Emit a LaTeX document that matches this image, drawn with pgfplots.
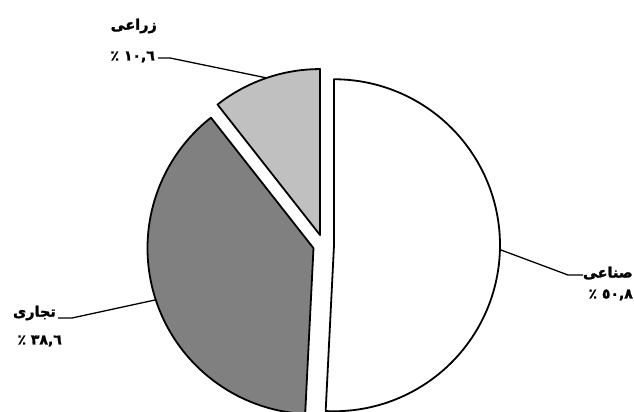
\documentclass[border=0pt]{standalone}
\usepackage{pgfplots}
\pgfplotsset{compat=1.18}
\usepackage{fontspec}
\TeXXeTstate=1
\newfontfamily\arabicfont[Script=Arabic, BoldFeatures={FakeBold=1.8}]{DejaVu Sans}

% data (percent)
\def\pSanaei{50.8}
\def\pTejari{38.6}
\def\pZeraei{10.6}
% geometry (pixels, y up)
\def\cx{323.5}
\def\cy{167}
\def\rad{166}
\def\expl{10.5}

% slice angles
\pgfmathsetmacro{\sA}{90}
\pgfmathsetmacro{\eA}{90-3.6*\pSanaei}
\pgfmathsetmacro{\sB}{\eA}
\pgfmathsetmacro{\eB}{\sB-3.6*\pTejari}
\pgfmathsetmacro{\sC}{\eB}
\pgfmathsetmacro{\eC}{\sC-3.6*\pZeraei}
% tips
\pgfmathsetmacro{\txA}{\cx+\expl*cos((\sA+\eA)/2)}
\pgfmathsetmacro{\tyA}{\cy+\expl*sin((\sA+\eA)/2)}
\pgfmathsetmacro{\txB}{\cx+\expl*cos((\sB+\eB)/2)}
\pgfmathsetmacro{\tyB}{\cy+\expl*sin((\sB+\eB)/2)}
\pgfmathsetmacro{\txC}{\cx+\expl*cos((\sC+\eC)/2)}
\pgfmathsetmacro{\tyC}{\cy+\expl*sin((\sC+\eC)/2)}

\newcommand{\nameFont}{\arabicfont\bfseries\fontsize{14.5}{16}\selectfont}
\newcommand{\numFont}{\arabicfont\bfseries\fontsize{14}{16}\selectfont}

\begin{document}
\begin{tikzpicture}
\begin{axis}[
  scale only axis, width=634bp, height=412bp,
  xmin=0, xmax=634, ymin=0, ymax=412,
  hide axis, clip=true,
]
% white slice
\addplot[draw=black, line width=1.8bp, line join=round, fill=white, domain=\eA:\sA, samples=150]
  ({\txA+\rad*cos(x)}, {\tyA+\rad*sin(x)}) -- (axis cs:\txA,\tyA) -- cycle;
% dark gray slice
\addplot[draw=black, line width=1.8bp, line join=round, fill={rgb,255:red,128;green,128;blue,128}, domain=\eB:\sB, samples=150]
  ({\txB+\rad*cos(x)}, {\tyB+\rad*sin(x)}) -- (axis cs:\txB,\tyB) -- cycle;
% light gray slice
\addplot[draw=black, line width=1.8bp, line join=round, fill={rgb,255:red,192;green,192;blue,192}, domain=\eC:\sC, samples=60]
  ({\txC+\rad*cos(x)}, {\tyC+\rad*sin(x)}) -- (axis cs:\txC,\tyC) -- cycle;

% leader lines
\addplot[black, line width=1.3bp] coordinates {(158,354) (170,354) (267,334)};
\addplot[black, line width=1.3bp] coordinates {(501,162) (568,137) (583,137)};
\addplot[black, line width=1.3bp] coordinates {(155,112) (72,94) (58,94)};

% labels
\node[anchor=east, inner sep=0pt] at (axis cs:157,386) {\nameFont\beginR زراعی\endR};
\node[anchor=east, inner sep=0pt] at (axis cs:155,355) {\numFont\beginR ١٠,٦ ٪\endR};
\node[anchor=east, inner sep=0pt] at (axis cs:633,139) {\nameFont\beginR صناعی\endR};
\node[anchor=east, inner sep=0pt] at (axis cs:633,117) {\numFont\beginR ٥٠,٨ ٪\endR};
\node[anchor=east, inner sep=0pt] at (axis cs:56,99) {\nameFont\beginR تجاری\endR};
\node[anchor=east, inner sep=0pt] at (axis cs:62,71) {\numFont\beginR ٣٨,٦ ٪\endR};
\end{axis}
\pgfresetboundingbox
\path (current axis.south west) rectangle (current axis.north east);
\end{tikzpicture}
\end{document}
